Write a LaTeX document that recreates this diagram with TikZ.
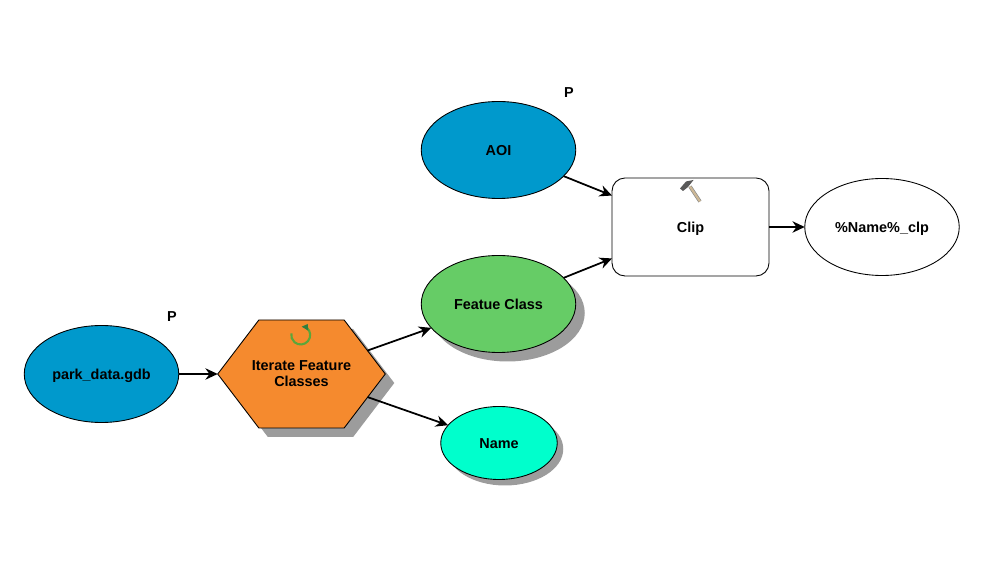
\documentclass[tikz,border=0pt]{standalone}
\usepackage{fontspec}
\setmainfont{Liberation Sans}
\usepackage{xcolor}
\usetikzlibrary{arrows.meta, shapes.geometric, shapes.symbols, shadows}
\definecolor{datablue}{HTML}{0099CC}
\definecolor{derivedgreen}{HTML}{66CC66}
\definecolor{valuecyan}{HTML}{00FFCC}
\definecolor{iterorange}{HTML}{F58A2E}
\definecolor{shadowgrey}{HTML}{9C9C9C}
\definecolor{loopgreen}{HTML}{5BA63A}
\definecolor{loophead}{HTML}{2F7F3F}
\definecolor{handletan}{HTML}{CDB896}
\tikzset{
  label text/.style = {font = \fontsize{8.2}{9.2}\selectfont\bfseries, align = center},
  model/.style = {label text, draw = black, line width = 0.5pt, inner sep = 0pt, outer sep = 0pt},
  single/.style = {text height = 5.8pt, text depth = 0pt},
  oval/.style = {model, single, ellipse, minimum width = 3.09cm, minimum height = 1.94cm},
  cast/.style = {drop shadow = {shadow xshift = #1, shadow yshift = -#1, fill = shadowgrey, opacity = 1}},
  link/.style = {line width = 1pt, -{Stealth[length = 7pt, width = 6.5pt]}}
}

\begin{document}
\begin{tikzpicture}
\useasboundingbox (0, 0) rectangle (19.68, 11.66);
\node [oval, fill = datablue] (park) at (2.03, 4.18) {park\_data.gdb};
\node [model, signal, signal to = west and east, signal pointer angle = 105.4, inner xsep = -0.14cm,
       minimum width = 3.34cm, minimum height = 2.16cm, fill = iterorange, cast = 0.18cm]
      (iter) at (6.03, 4.18) {Iterate Feature\\Classes};
\node [oval, fill = datablue] (aoi) at (9.97, 8.66) {AOI};
\node [oval, fill = derivedgreen, cast = 0.18cm] (feat) at (9.97, 5.58) {Featue Class};
\node [oval, fill = valuecyan, minimum width = 2.33cm, minimum height = 1.46cm, cast = 0.12cm]
      (name) at (9.98, 2.8) {Name};
\node [model, single, rectangle, rounded corners = 0.26cm, minimum width = 3.14cm, minimum height = 1.96cm]
      (clip) at (13.81, 7.12) {Clip};
\node [oval] (out) at (17.64, 7.12) {\%Name\%\_clp};
\node [label text] (p1) at (3.44, 5.33) {P};
\node [label text] (p2) at (11.38, 9.81) {P};
\draw [link] (park) -- (iter);
\draw [link] (iter) -- (feat);
\draw [link] (iter) -- (name);
\draw [link] (aoi) -- (clip);
\draw [link] (feat) -- (clip);
\draw [link] (clip) -- (out);
% loop icon
\draw [line width = 1.2pt, color = loopgreen] (6.136, 5.106) arc (50:-190:0.19);
\fill [loophead] (6.034, 5.126) -- (6.154, 5.18) -- (6.166, 5.046) -- cycle;
% hammer icon
\draw [line width = 2pt, color = black!45] (13.8, 7.93) -- (14.0, 7.63);
\draw [line width = 1.2pt, color = handletan] (13.8, 7.93) -- (14.0, 7.63);
\fill [black!65] (13.6, 7.89) -- (13.72, 8.03) -- (13.87, 8.06) -- (13.76, 7.92) -- (13.66, 7.84) -- cycle;
\end{tikzpicture}
\end{document}
